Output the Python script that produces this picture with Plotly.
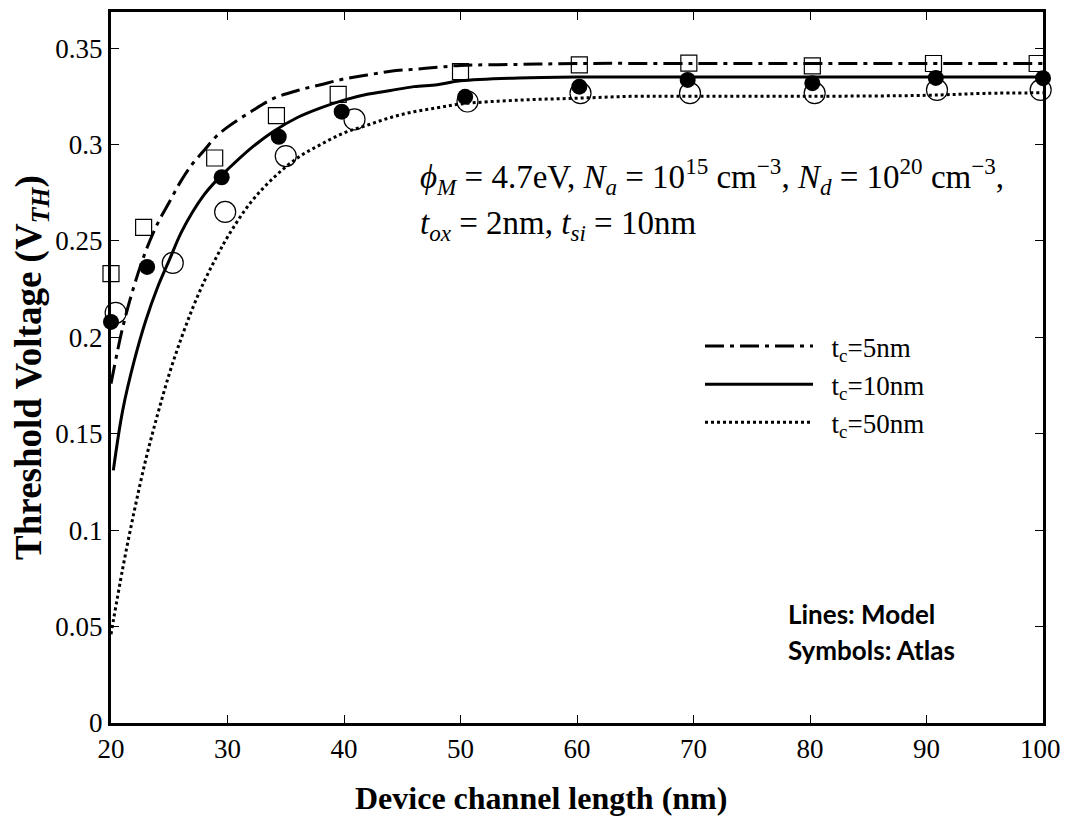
import plotly.graph_objects as go

# ---- Model curves (lines) ----
tc5_x = [20, 21, 22, 23, 24, 25, 26, 27, 28, 29, 30, 32, 34, 36, 38, 40, 42, 44, 46, 48, 50, 55, 60, 70, 80, 90, 100]
tc5_y = [0.176, 0.205, 0.227, 0.245, 0.259, 0.270, 0.281, 0.290, 0.297, 0.304, 0.309, 0.317, 0.324, 0.328, 0.331,
         0.334, 0.336, 0.338, 0.339, 0.340, 0.341, 0.3415, 0.342, 0.342, 0.342, 0.342, 0.342]

tc10_x = [20.2, 21, 22, 23, 24, 25, 26, 27, 28, 29, 30, 32, 34, 36, 38, 40, 42, 44, 46, 48, 50, 55, 60, 70, 80, 90, 100]
tc10_y = [0.131, 0.162, 0.188, 0.209, 0.226, 0.240, 0.254, 0.265, 0.274, 0.281, 0.287, 0.298, 0.307, 0.314, 0.319,
          0.323, 0.326, 0.328, 0.330, 0.331, 0.333, 0.3345, 0.335, 0.335, 0.335, 0.335, 0.335]

tc50_x = [20, 21, 22, 23, 24, 25, 26, 27, 28, 29, 30, 32, 34, 36, 38, 40, 42, 44, 46, 48, 50, 55, 60, 65, 70, 80, 90, 95, 100]
tc50_y = [0.046, 0.080, 0.110, 0.137, 0.160, 0.181, 0.199, 0.215, 0.229, 0.241, 0.252, 0.270, 0.283, 0.293, 0.300,
          0.306, 0.310, 0.314, 0.317, 0.319, 0.321, 0.323, 0.324, 0.325, 0.325, 0.325, 0.3255, 0.3265, 0.3268]

# ---- Atlas simulation (symbols) ----
sq_x = [20, 22.8, 28.9, 34.2, 39.5, 50, 60.2, 69.6, 80.2, 90.6, 99.5]
sq_y = [0.233, 0.257, 0.293, 0.315, 0.326, 0.3378, 0.3413, 0.3422, 0.3408, 0.342, 0.342]

fc_x = [20, 23.1, 29.5, 34.4, 39.8, 50.4, 60.2, 69.5, 80.2, 90.8, 100]
fc_y = [0.208, 0.2365, 0.283, 0.304, 0.317, 0.3247, 0.330, 0.3335, 0.3318, 0.3345, 0.3344]

oc_x = [20.4, 25.3, 29.8, 35.0, 40.9, 50.6, 60.3, 69.7, 80.4, 90.9, 99.8]
oc_y = [0.2127, 0.2386, 0.265, 0.294, 0.313, 0.3223, 0.3266, 0.3266, 0.3266, 0.3283, 0.3283]

x_ticks = [20, 30, 40, 50, 60, 70, 80, 90, 100]
# last label nudged inward (as in the reference) with a thin space
x_ticktext = ["20", "30", "40", "50", "60", "70", "80", "90", "100\u2009"]
y_ticks = [0, 0.05, 0.1, 0.15, 0.2, 0.25, 0.3, 0.35]
y_ticktext = ["0", "0.05", "0.1", "0.15", "0.2", "0.25", "0.3", "0.35"]

SERIF = "Liberation Serif"
SANS = "Lato"

# The HTML body has the browser's default 8px margin, so the figure starts at (8, 8) on the page.
OFF = 8
FIG_W, FIG_H = 1068 - OFF, 829 - 2 * OFF
# plot area in page pixels
L, R, T, B = 111, 1043, 12, 723
W, H = R - L, B - T


def px(xp):
    return (xp - L) / W


def py(yp):
    return (B - yp) / H


fig = go.Figure()

# symbols (not in legend)
fig.add_trace(go.Scatter(x=oc_x, y=oc_y, mode="markers", showlegend=False, cliponaxis=False,
                         marker=dict(symbol="circle-open", size=21, color="black", line=dict(width=1.2))))
fig.add_trace(go.Scatter(x=fc_x, y=fc_y, mode="markers", showlegend=False, cliponaxis=False,
                         marker=dict(symbol="circle", size=16, color="black")))
fig.add_trace(go.Scatter(x=sq_x, y=sq_y, mode="markers", showlegend=False, cliponaxis=False,
                         marker=dict(symbol="square-open", size=16, color="black", line=dict(width=1.2))))

# model lines
fig.add_trace(go.Scatter(x=tc5_x, y=tc5_y, mode="lines", name="\u2002t<sub>c</sub>=5nm",
                         line=dict(color="black", width=3, dash="19px,6px,4px,6px", shape="spline")))
fig.add_trace(go.Scatter(x=tc10_x, y=tc10_y, mode="lines", name="\u2002t<sub>c</sub>=10nm",
                         line=dict(color="black", width=3, shape="spline")))
fig.add_trace(go.Scatter(x=tc50_x, y=tc50_y, mode="lines", name="\u2002t<sub>c</sub>=50nm",
                         line=dict(color="black", width=3, dash="3px,3px", shape="spline")))

axis_common = dict(showline=True, linecolor="black", linewidth=3, mirror="allticks",
                   ticks="inside", ticklen=8, tickwidth=1, tickcolor="black",
                   showgrid=False, zeroline=False, automargin=False,
                   tickfont=dict(family=SERIF, size=27, color="black"))

fig.update_xaxes(range=[20, 100], tickvals=x_ticks, ticktext=x_ticktext,
                 ticklabeloverflow="allow", **axis_common)
fig.update_yaxes(range=[0, 0.3687], tickvals=y_ticks, ticktext=y_ticktext,
                 title=dict(text="<b>Threshold Voltage (V<sub><i>TH</i></sub>)</b>",
                            font=dict(family=SERIF, size=37, color="black"), standoff=8),
                 **axis_common)

# x-axis title
fig.add_annotation(xref="paper", yref="paper", x=px(541), y=py(798), xanchor="center", yanchor="middle",
                   showarrow=False, font=dict(family=SERIF, size=32, color="black"),
                   text="<b>Device channel length (nm)</b>")

# parameter text
fig.add_annotation(xref="paper", yref="paper", x=px(418), y=py(176), xanchor="left", yanchor="middle",
                   showarrow=False, font=dict(family=SERIF, size=33, color="black"),
                   text="<i>ϕ</i><sub><i>M</i></sub> = 4.7eV, <i>N</i><sub><i>a</i></sub> = 10<sup>15</sup> cm<sup>−3</sup>, "
                        "<i>N</i><sub><i>d</i></sub> = 10<sup>20</sup> cm<sup>−3</sup>,")
fig.add_annotation(xref="paper", yref="paper", x=px(418), y=py(226), xanchor="left", yanchor="middle",
                   showarrow=False, font=dict(family=SERIF, size=33, color="black"),
                   text="<i>t</i><sub><i>ox</i></sub> = 2nm, <i>t</i><sub><i>si</i></sub> = 10nm")

fig.add_annotation(xref="paper", yref="paper", x=px(786), y=py(614), xanchor="left",
                   yanchor="middle", showarrow=False, font=dict(family=SANS, size=26, color="black"),
                   text="<b>Lines: Model</b>")
fig.add_annotation(xref="paper", yref="paper", x=px(786), y=py(650), xanchor="left",
                   yanchor="middle", showarrow=False, font=dict(family=SANS, size=26, color="black"),
                   text="<b>Symbols: Atlas</b>")

fig.update_layout(
    width=FIG_W, height=FIG_H,
    margin=dict(l=L - OFF, r=FIG_W - (R - OFF), t=T - OFF, b=FIG_H - (B - OFF)),
    plot_bgcolor="white", paper_bgcolor="white",
    showlegend=True,
    legend=dict(x=px(700), y=py(322), xanchor="left", yanchor="top",
                bgcolor="rgba(0,0,0,0)", font=dict(family=SERIF, size=27, color="black"),
                itemwidth=108, tracegroupgap=0),
)

fig.write_html("out.html")
